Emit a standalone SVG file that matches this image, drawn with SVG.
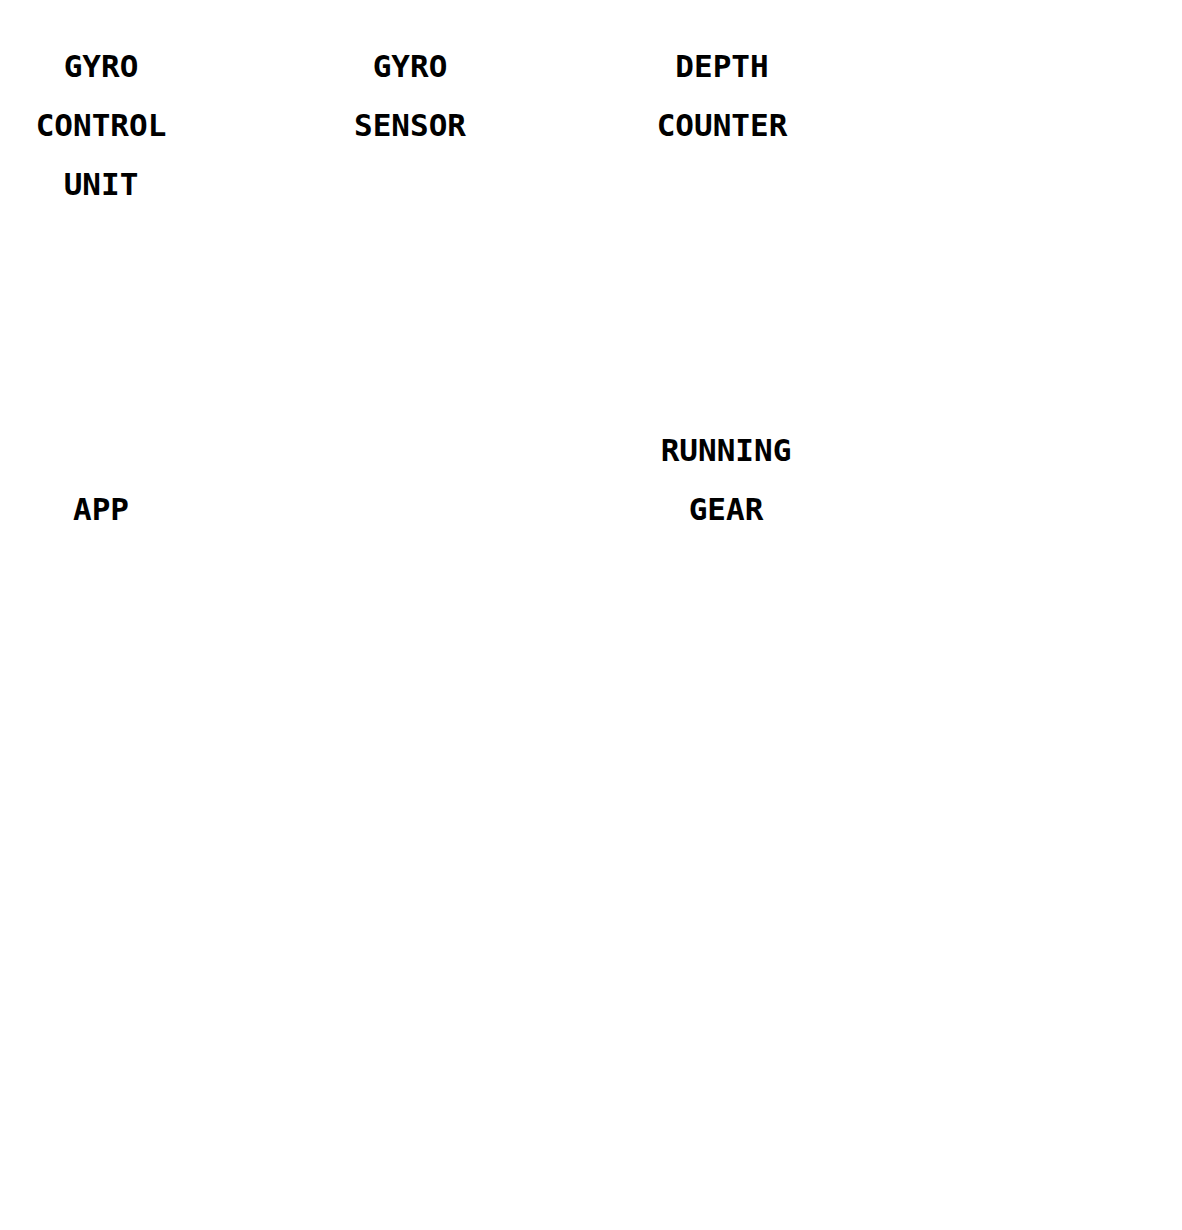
<svg xmlns="http://www.w3.org/2000/svg" width="1182" height="1230" viewBox="0 0 1182 1230">
<style>text{font-family:"DejaVu Sans Mono","Liberation Mono",monospace;font-weight:bold;font-size:31px;fill:#000;text-anchor:middle}</style>
<rect width="1182" height="1230" fill="#fff"/>
<g id="gyro-control-unit"><text x="101" y="77">GYRO</text><text x="101" y="136">CONTROL</text><text x="101" y="195">UNIT</text></g>
<g id="gyro-sensor"><text x="410" y="77">GYRO</text><text x="410" y="136">SENSOR</text></g>
<g id="depth-counter"><text x="722" y="77">DEPTH</text><text x="722" y="136">COUNTER</text></g>
<g id="app"><text x="101" y="520">APP</text></g>
<g id="running-gear"><text x="726" y="461">RUNNING</text><text x="726" y="520">GEAR</text></g>
<g id="connectors"></g>
</svg>
